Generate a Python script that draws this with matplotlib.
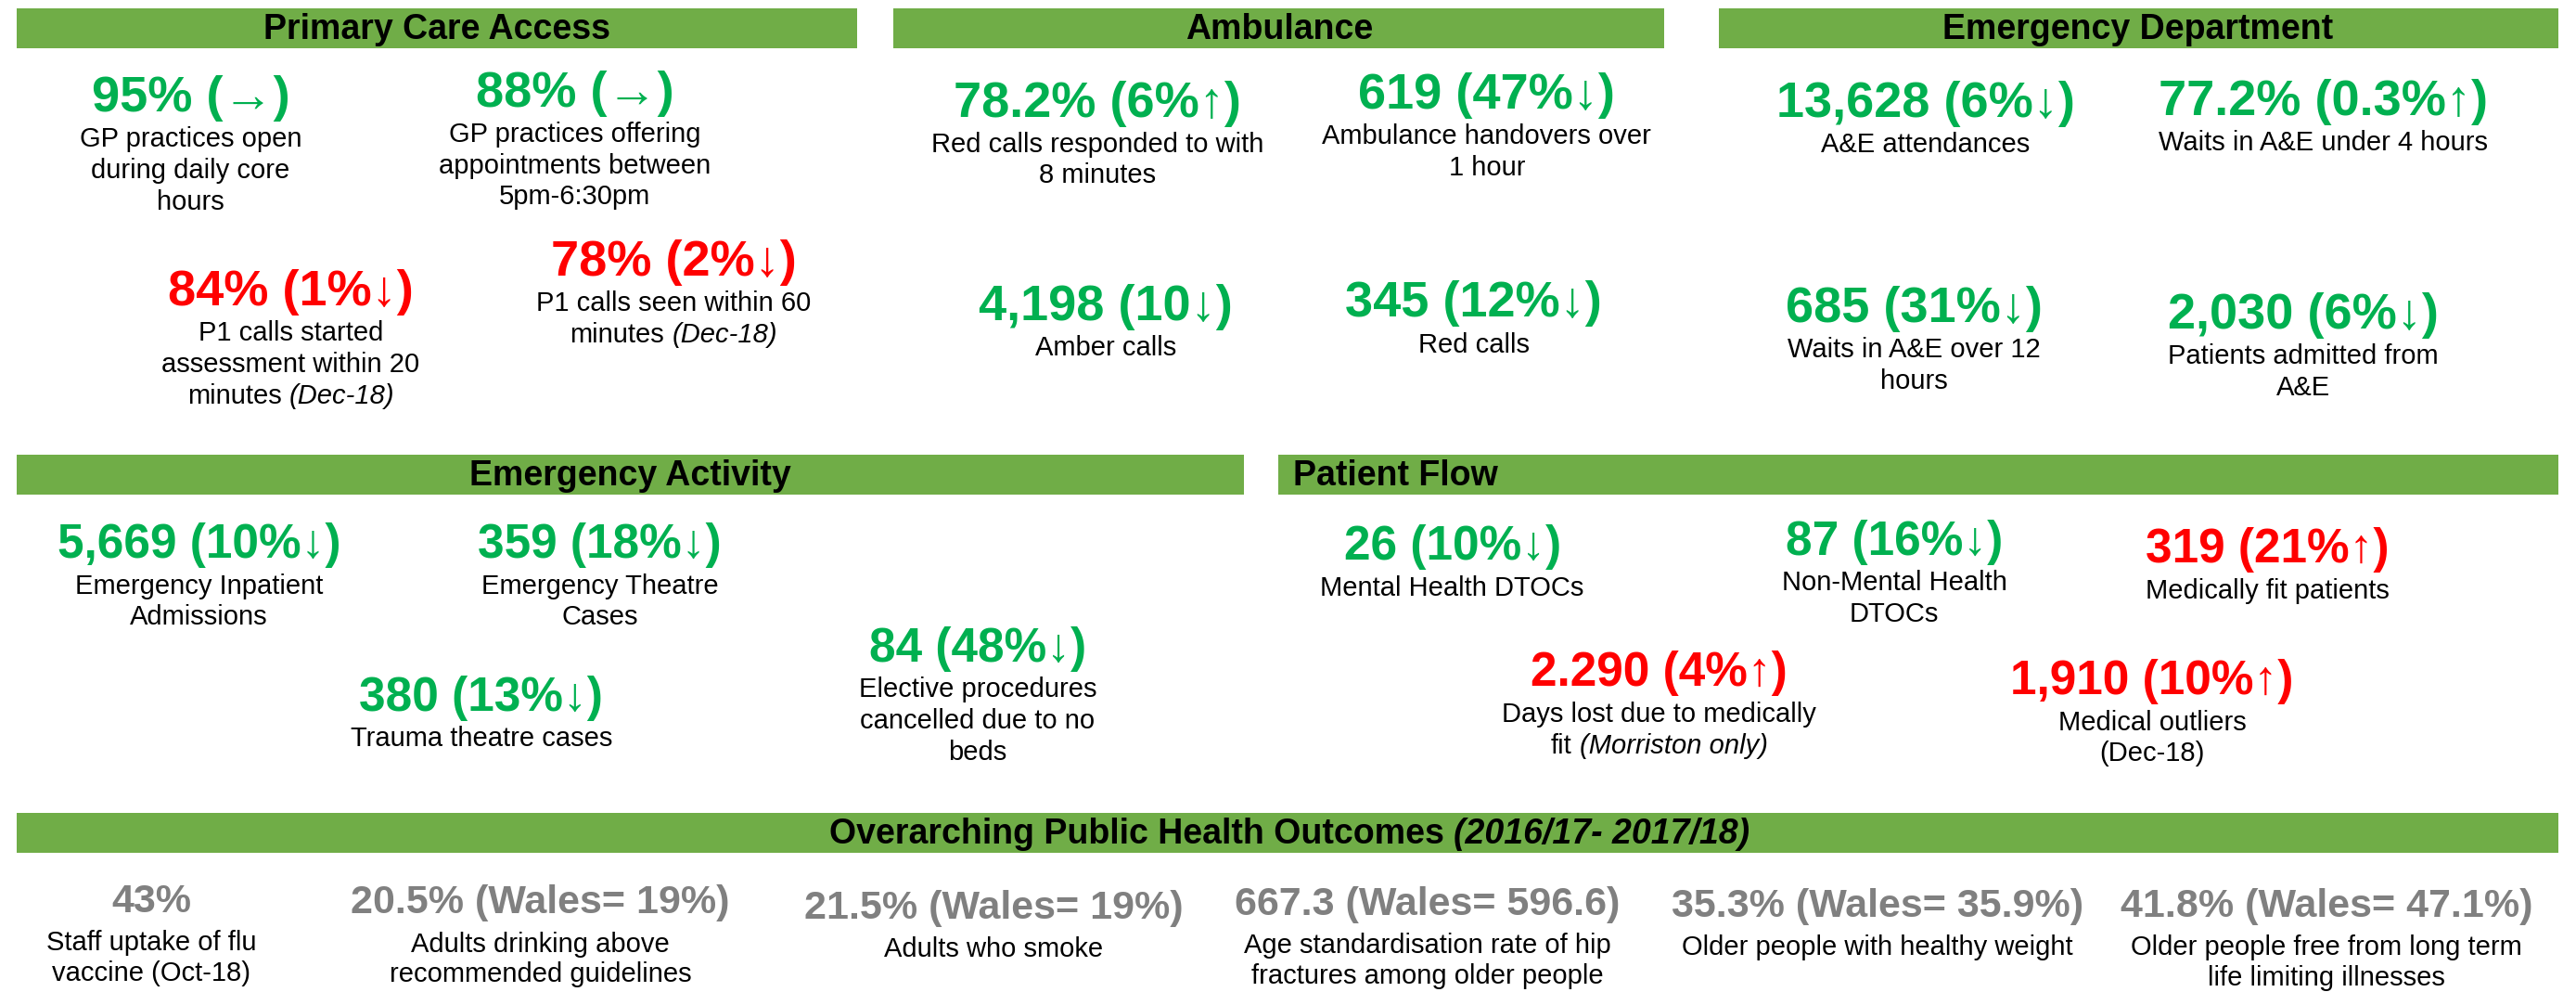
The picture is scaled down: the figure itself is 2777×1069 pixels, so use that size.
import matplotlib
matplotlib.use('Agg')
import matplotlib.pyplot as plt
from matplotlib.patches import Rectangle

plt.rcParams['font.family'] = ['Liberation Sans', 'DejaVu Sans']

GREEN_BAR = '#70AD47'
GOOD = '#00B050'
BAD = '#FF0000'
GREY = '#808080'

# section headers
sections = ['Primary Care Access', 'Ambulance', 'Emergency Department',
            'Emergency Activity', 'Patient Flow']

# headline figures, one list per section
primary_values = ['95% (→)', '88% (→)', '84% (1%↓)', '78% (2%↓)']
primary_colors = [GOOD, GOOD, BAD, BAD]
primary_labels = [
    [[('GP practices open', 'normal')], [('during daily core', 'normal')], [('hours', 'normal')]],
    [[('GP practices offering', 'normal')], [('appointments between', 'normal')], [('5pm-6:30pm', 'normal')]],
    [[('P1 calls started', 'normal')], [('assessment within 20', 'normal')],
     [('minutes', 'normal'), ('(Dec-18)', 'italic')]],
    [[('P1 calls seen within 60', 'normal')], [('minutes', 'normal'), ('(Dec-18)', 'italic')]],
]

ambulance_values = ['78.2% (6%↑)', '619 (47%↓)', '4,198 (10↓)', '345 (12%↓)']
ambulance_colors = [GOOD, GOOD, GOOD, GOOD]
ambulance_labels = [
    [[('Red calls responded to with', 'normal')], [('8 minutes', 'normal')]],
    [[('Ambulance handovers over', 'normal')], [('1 hour', 'normal')]],
    [[('Amber calls', 'normal')]],
    [[('Red calls', 'normal')]],
]

ed_values = ['13,628 (6%↓)', '77.2% (0.3%↑)', '685 (31%↓)', '2,030 (6%↓)']
ed_colors = [GOOD, GOOD, GOOD, GOOD]
ed_labels = [
    [[('A&E attendances', 'normal')]],
    [[('Waits in A&E under 4 hours', 'normal')]],
    [[('Waits in A&E over 12', 'normal')], [('hours', 'normal')]],
    [[('Patients admitted from', 'normal')], [('A&E', 'normal')]],
]

activity_values = ['5,669 (10%↓)', '359 (18%↓)', '380 (13%↓)', '84 (48%↓)']
activity_colors = [GOOD, GOOD, GOOD, GOOD]
activity_labels = [
    [[('Emergency Inpatient', 'normal')], [('Admissions', 'normal')]],
    [[('Emergency Theatre', 'normal')], [('Cases', 'normal')]],
    [[('Trauma theatre cases', 'normal')]],
    [[('Elective procedures', 'normal')], [('cancelled due to no', 'normal')], [('beds', 'normal')]],
]

flow_values = ['26 (10%↓)', '87 (16%↓)', '319 (21%↑)', '2.290 (4%↑)', '1,910 (10%↑)']
flow_colors = [GOOD, GOOD, BAD, BAD, BAD]
flow_labels = [
    [[('Mental Health DTOCs', 'normal')]],
    [[('Non-Mental Health', 'normal')], [('DTOCs', 'normal')]],
    [[('Medically fit patients', 'normal')]],
    [[('Days lost due to medically', 'normal')], [('fit', 'normal'), ('(Morriston only)', 'italic')]],
    [[('Medical outliers', 'normal')], [('(Dec-18)', 'normal')]],
]

health_values = ['43%', '20.5% (Wales= 19%)', '21.5% (Wales= 19%)', '667.3 (Wales= 596.6)',
                 '35.3% (Wales= 35.9%)', '41.8% (Wales= 47.1%)']
health_labels = [
    [[('Staff uptake of flu', 'normal')], [('vaccine (Oct-18)', 'normal')]],
    [[('Adults drinking above', 'normal')], [('recommended guidelines', 'normal')]],
    [[('Adults who smoke', 'normal')]],
    [[('Age standardisation rate of hip', 'normal')], [('fractures among older people', 'normal')]],
    [[('Older people with healthy weight', 'normal')]],
    [[('Older people free from long term', 'normal')], [('life limiting illnesses', 'normal')]],
]

# layout (in a 1568 x 604 grid)
W, H = 1568, 604
fig = plt.figure(figsize=(27.77, 10.69), dpi=100)
ax = fig.add_axes([0, 0, 1, 1])
ax.set_xlim(0, W)
ax.set_ylim(H, 0)
ax.axis('off')
renderer = fig.canvas.get_renderer()
px = W / 2777.0  # data units per pixel


def rich_line(x, y, parts, size, color, weight='normal'):
    """Draw a centred line made of parts with different styles."""
    texts, widths = [], []
    for s, style in parts:
        t = ax.text(0, y, s, fontsize=size, color=color, fontweight=weight,
                    fontstyle=style, ha='left', va='center')
        texts.append(t)
        widths.append(t.get_window_extent(renderer).width * px)
    gap = 0.278 * size * 100 / 72 * px
    total = sum(widths) + gap * (len(parts) - 1)
    cur = x - total / 2
    for t, w in zip(texts, widths):
        t.set_x(cur)
        cur += w + gap


def banner(x0, x1, y0, y1, parts, tx=None, ha='center'):
    ax.add_patch(Rectangle((x0, y0), x1 - x0, y1 - y0, color=GREEN_BAR, lw=0))
    if ha == 'center':
        rich_line((x0 + x1) / 2 if tx is None else tx, (y0 + y1) / 2 + 1, parts, 27, 'black', 'bold')
    else:
        ax.text(tx, (y0 + y1) / 2 + 1, parts[0][0], fontsize=27, fontweight='bold',
                ha='left', va='center')


def metric(x, y, value, color, label, vsize=39, lsize=21, lgap=25, lstep=19):
    ax.text(x, y, value, fontsize=vsize, fontweight='bold', color=color,
            ha='center', va='center')
    for i, line in enumerate(label):
        rich_line(x, y + lgap + i * lstep, line, lsize, 'black')


banner(10, 522, 5, 29.5, [(sections[0], 'normal')])
banner(544, 1013, 5, 29.5, [(sections[1], 'normal')])
banner(1046, 1557, 5, 29.5, [(sections[2], 'normal')])
banner(10, 757, 277, 301, [(sections[3], 'normal')])
banner(778, 1557, 277, 301, [(sections[4], 'normal')], tx=787, ha='left')
banner(10, 1557, 495, 519, [('Overarching Public Health Outcomes', 'normal'),
                            ('(2016/17- 2017/18)', 'italic')], tx=785)

primary_pos = [(116, 60), (350, 57), (177, 178), (410, 160)]
ambulance_pos = [(668, 63), (905, 58), (673, 187), (897, 185)]
ed_pos = [(1172, 63), (1414, 62), (1165, 188), (1402, 192)]
activity_pos = [(121, 332), (365, 332), (293, 425), (595, 395)]
flow_pos = [(884, 333), (1153, 330), (1380, 335), (1010, 410), (1310, 415)]
health_pos = [(92, 549), (329, 550), (605, 553), (869, 551), (1143, 552), (1416, 552)]

for vals, cols, labs, pos in [(primary_values, primary_colors, primary_labels, primary_pos),
                              (ambulance_values, ambulance_colors, ambulance_labels, ambulance_pos),
                              (ed_values, ed_colors, ed_labels, ed_pos)]:
    for v, c, l, (x, y) in zip(vals, cols, labs, pos):
        metric(x, y, v, c, l)

for vals, cols, labs, pos in [(activity_values, activity_colors, activity_labels, activity_pos),
                              (flow_values, flow_colors, flow_labels, flow_pos)]:
    for v, c, l, (x, y) in zip(vals, cols, labs, pos):
        metric(x, y, v, c, l, vsize=37)

for v, l, (x, y) in zip(health_values, health_labels, health_pos):
    metric(x, y, v, GREY, l, vsize=31, lsize=21, lgap=25, lstep=18.5)

fig.savefig('out.png', dpi=100)
